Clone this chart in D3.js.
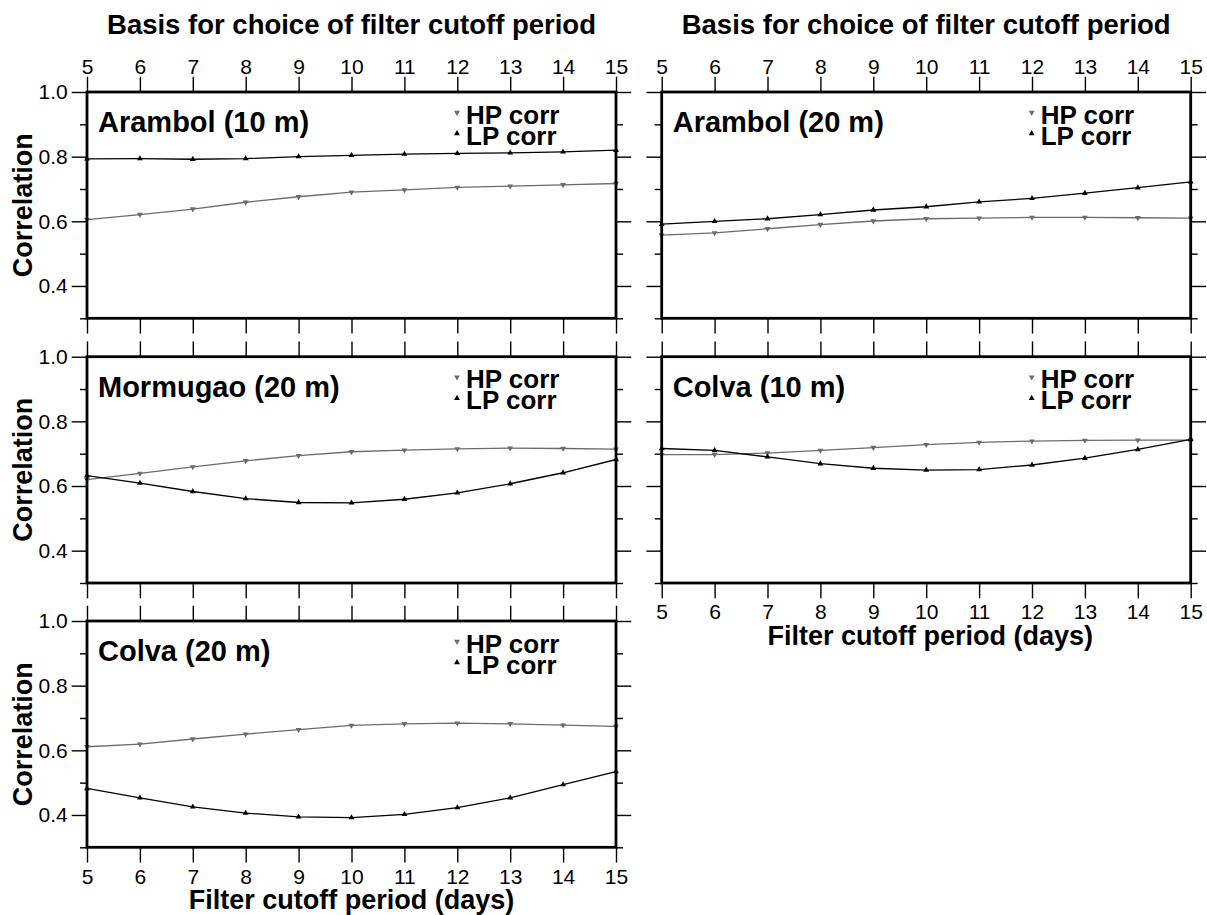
<!DOCTYPE html>
<html>
<head>
<meta charset="utf-8">
<script src="https://cdn.jsdelivr.net/npm/d3@7"></script>
<style>
  html, body { margin: 0; padding: 0; background: #fff; }
  svg { display: block; font-family: "Liberation Sans", Arial, Helvetica, sans-serif; }
</style>
</head>
<body>
<div id="chart"></div>
<script>
const periods = [5, 6, 7, 8, 9, 10, 11, 12, 13, 14, 15];
const yMajorTicks = [0.4, 0.6, 0.8, 1.0];
const yMinorTicks = [0.3, 0.5, 0.7, 0.9];
const chartTitle = "Basis for choice of filter cutoff period";
const xTitle = "Filter cutoff period (days)";
const yTitle = "Correlation";
const legendLabels = ["HP corr", "LP corr"];

const stations = ["Arambol (10 m)", "Arambol (20 m)", "Mormugao (20 m)", "Colva (10 m)", "Colva (20 m)"];

const hpArambol10 = [0.605, 0.621, 0.638, 0.659, 0.676, 0.690, 0.697, 0.705, 0.709, 0.713, 0.717];
const lpArambol10 = [0.793, 0.794, 0.792, 0.794, 0.800, 0.804, 0.808, 0.810, 0.812, 0.815, 0.820];
const hpArambol20 = [0.557, 0.564, 0.577, 0.590, 0.601, 0.608, 0.610, 0.612, 0.612, 0.611, 0.610];
const lpArambol20 = [0.591, 0.600, 0.608, 0.621, 0.635, 0.645, 0.660, 0.671, 0.687, 0.704, 0.722];
const hpMormugao20 = [0.620, 0.639, 0.659, 0.678, 0.694, 0.706, 0.711, 0.715, 0.717, 0.716, 0.714];
const lpMormugao20 = [0.632, 0.609, 0.583, 0.561, 0.549, 0.548, 0.559, 0.579, 0.607, 0.641, 0.682];
const hpColva10 = [0.697, 0.697, 0.702, 0.710, 0.719, 0.728, 0.735, 0.739, 0.741, 0.742, 0.742];
const lpColva10 = [0.716, 0.710, 0.690, 0.669, 0.655, 0.649, 0.651, 0.665, 0.686, 0.713, 0.744];
const hpColva20 = [0.611, 0.619, 0.635, 0.650, 0.664, 0.677, 0.682, 0.684, 0.682, 0.678, 0.674];
const lpColva20 = [0.482, 0.453, 0.425, 0.406, 0.394, 0.392, 0.402, 0.423, 0.453, 0.494, 0.534];

const hpSeries = [hpArambol10, hpArambol20, hpMormugao20, hpColva10, hpColva20];
const lpSeries = [lpArambol10, lpArambol20, lpMormugao20, lpColva10, lpColva20];

const width = 1207, height = 915;
const panelW = 529, panelH = 226.3;
const colX = [87, 661.7];
const rowY = [92, 356.7, 621];
// which sides of each panel carry labels
const layout = [
  { col: 0, row: 0, top: true, bottom: false, left: true },
  { col: 1, row: 0, top: true, bottom: false, left: false },
  { col: 0, row: 1, top: false, bottom: false, left: true },
  { col: 1, row: 1, top: false, bottom: true, left: false },
  { col: 0, row: 2, top: false, bottom: true, left: true }
];

const hpColor = "#6b6b6b";
const lpColor = "#000";

const svg = d3.select("#chart").append("svg")
  .attr("width", width)
  .attr("height", height)
  .attr("viewBox", [0, 0, width, height]);

const tri = d3.symbol().type(d3.symbolTriangle).size(15);

function drawPanel(p, i) {
  const x0 = colX[p.col], y0 = rowY[p.row];
  const x = d3.scaleLinear().domain([5, 15]).range([0, panelW]);
  const y = d3.scaleLinear().domain([0.3, 1.0]).range([panelH, 0]);
  const g = svg.append("g").attr("transform", `translate(${x0},${y0})`);

  const fmt = d3.format(".1f");
  const styleAxis = (a) => {
    a.select(".domain").remove();
    a.selectAll(".tick line").attr("stroke", "#000").attr("stroke-width", 1.4);
    a.selectAll(".tick text").attr("fill", "#000")
      .style("font-size", "21px").style("font-family", "Liberation Sans, Arial, sans-serif");
  };

  // x axes top / bottom
  g.append("g")
    .call(d3.axisTop(x).tickValues(periods).tickSize(15.3).tickPadding(3)
      .tickFormat(p.top ? d3.format("d") : ""))
    .call(styleAxis);
  g.append("g").attr("transform", `translate(0,${panelH})`)
    .call(d3.axisBottom(x).tickValues(periods).tickSize(15.3).tickPadding(6)
      .tickFormat(p.bottom ? d3.format("d") : ""))
    .call(styleAxis);

  // y axes left / right, major + minor
  g.append("g")
    .call(d3.axisLeft(y).tickValues(yMajorTicks).tickSize(15.3).tickPadding(4)
      .tickFormat(p.left ? fmt : ""))
    .call(styleAxis);
  g.append("g")
    .call(d3.axisLeft(y).tickValues(yMinorTicks).tickSize(7).tickFormat(""))
    .call(styleAxis);
  g.append("g").attr("transform", `translate(${panelW},0)`)
    .call(d3.axisRight(y).tickValues(yMajorTicks).tickSize(15.3).tickFormat(""))
    .call(styleAxis);
  g.append("g").attr("transform", `translate(${panelW},0)`)
    .call(d3.axisRight(y).tickValues(yMinorTicks).tickSize(7).tickFormat(""))
    .call(styleAxis);

  // series
  const series = [
    { values: hpSeries[i], color: hpColor, rotate: 180 },
    { values: lpSeries[i], color: lpColor, rotate: 0 }
  ];
  const line = d3.line().x((d, j) => x(periods[j])).y(d => y(d));
  series.forEach(s => {
    g.append("path")
      .datum(s.values)
      .attr("fill", "none")
      .attr("stroke", s.color)
      .attr("stroke-width", 1.3)
      .attr("d", line);
    g.append("g").selectAll("path")
      .data(s.values)
      .join("path")
      .attr("d", tri)
      .attr("fill", s.color)
      .attr("transform", (d, j) => `translate(${x(periods[j])},${y(d)}) rotate(${s.rotate})`);
  });

  // frame
  g.append("rect")
    .attr("width", panelW).attr("height", panelH)
    .attr("fill", "none").attr("stroke", "#000").attr("stroke-width", 2.8);

  // station label
  g.append("text")
    .attr("x", 11).attr("y", 40)
    .style("font-size", "29px").style("font-weight", "bold")
    .text(stations[i]);

  // legend
  const leg = g.append("g").attr("transform", `translate(${panelW - 159},0)`);
  legendLabels.forEach((lab, k) => {
    leg.append("path")
      .attr("d", tri)
      .attr("fill", k === 0 ? hpColor : lpColor)
      .attr("transform", `translate(0,${20.5 + k * 21}) rotate(${k === 0 ? 180 : 0})`);
    leg.append("text")
      .attr("x", 9).attr("y", 31.5 + k * 21)
      .style("font-size", "26px").style("font-weight", "bold")
      .text(lab);
  });

  // titles
  if (p.row === 0) {
    svg.append("text")
      .attr("x", x0 + panelW / 2).attr("y", 34)
      .attr("text-anchor", "middle")
      .style("font-size", "27.5px").style("font-weight", "bold")
      .text(chartTitle);
  }
  if (p.left) {
    svg.append("text")
      .attr("transform", `translate(32,${y0 + panelH / 2}) rotate(-90)`)
      .attr("text-anchor", "middle")
      .style("font-size", "27px").style("font-weight", "bold")
      .text(yTitle);
  }
  if (p.bottom) {
    svg.append("text")
      .attr("x", x0 + panelW / 2 + (p.col ? 4 : 0)).attr("y", y0 + panelH + 62)
      .attr("text-anchor", "middle")
      .style("font-size", "27px").style("font-weight", "bold")
      .text(xTitle);
  }
}

layout.forEach(drawPanel);
</script>
</body>
</html>
